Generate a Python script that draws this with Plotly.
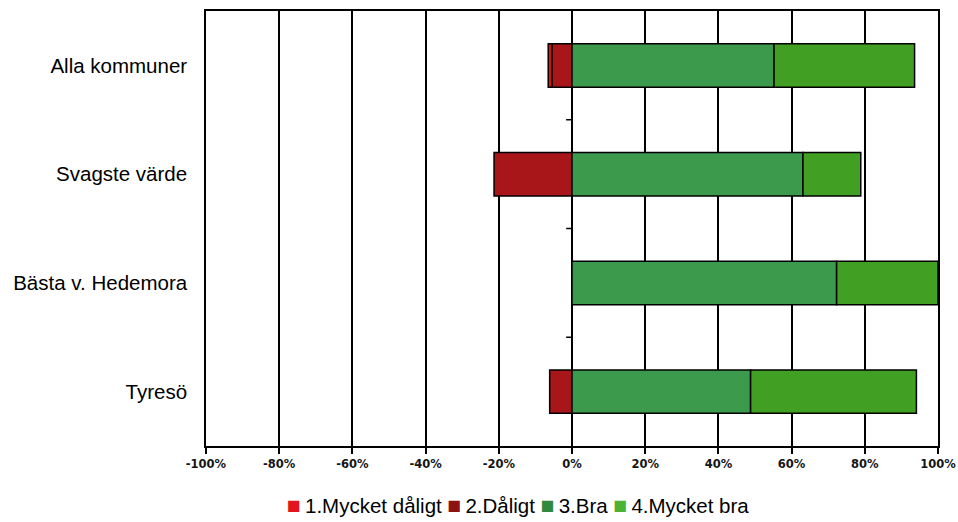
import plotly.graph_objects as go

# Survey answer shares (percent); negative answers are drawn to the left of 0
categories = ["Alla kommuner", "Svagste värde", "Bästa v. Hedemora", "Tyresö"]
mycket_daligt = [-1.0, 0.0, 0.0, 0.0]
daligt = [-5.5, -21.3, 0.0, -6.1]
bra = [55.2, 63.1, 72.3, 48.8]
mycket_bra = [38.4, 15.8, 27.7, 45.3]

tick_values = [-100, -80, -60, -40, -20, 0, 20, 40, 60, 80, 100]
tick_labels = ["-100%", "-80%", "-60%", "-40%", "-20%", "0%", "20%", "40%", "60%", "80%", "100%"]

series_names = ["1.Mycket dåligt", "2.Dåligt", "3.Bra", "4.Mycket bra"]
series_values = [mycket_daligt, daligt, bra, mycket_bra]
bar_colours = ["#e01010", "#a8161a", "#3c9a4c", "#41a024"]
legend_colours = ["#e3141c", "#8e1212", "#2f8a3e", "#4cb235"]

# "2.Dåligt" is stacked first so it sits next to the 0 line, "1.Mycket dåligt" beyond it
stack_order = [1, 0, 2, 3]

fig = go.Figure()
for i in stack_order:
    fig.add_trace(go.Bar(
        y=categories, x=series_values[i], name=series_names[i], orientation="h",
        marker=dict(color=bar_colours[i], line=dict(color="black", width=1.5)),
        showlegend=False,
    ))

# small tick marks on the 0% axis between the categories
for i in range(len(categories) - 1):
    fig.add_shape(type="line", xref="x", yref="y",
                  x0=-1.6, x1=0, y0=i + 0.5, y1=i + 0.5,
                  line=dict(color="black", width=1.5))

# legend row below the chart
legend_text = " ".join(
    f"<span style='color:{c};font-size:23px'>■</span>\u2009{n}"
    for n, c in zip(series_names, legend_colours)
)
fig.add_annotation(
    text=legend_text, xref="paper", yref="paper", x=0.4256, y=-0.136,
    xanchor="center", yanchor="middle", showarrow=False,
    font=dict(size=20.5, color="black"),
)

fig.update_layout(
    width=958, height=522,
    margin=dict(l=206, r=20, t=11, b=76, autoexpand=False),
    barmode="relative", bargap=0.6,
    paper_bgcolor="white", plot_bgcolor="white",
    font=dict(family="Liberation Sans, Arial, sans-serif", color="black"),
    showlegend=False,
)
fig.update_xaxes(
    range=[-100, 100], tickvals=tick_values, ticktext=tick_labels,
    tickfont=dict(family="DejaVu Sans, sans-serif", size=11.5, weight="bold", color="#151515"),
    automargin=False,
    showgrid=True, gridcolor="black", gridwidth=2,
    zeroline=True, zerolinecolor="black", zerolinewidth=2,
    showline=True, linecolor="black", linewidth=1.5, mirror=True,
    ticks="outside", ticklen=6, tickcolor="black", tickwidth=1.5,
)
fig.update_yaxes(
    categoryorder="array", categoryarray=categories, autorange="reversed",
    tickfont=dict(size=20.5), ticks="", ticklabelstandoff=13, automargin=False,
    showline=True, linecolor="black", linewidth=1.5, mirror=True, showgrid=False,
)

fig.write_html("out.html")
